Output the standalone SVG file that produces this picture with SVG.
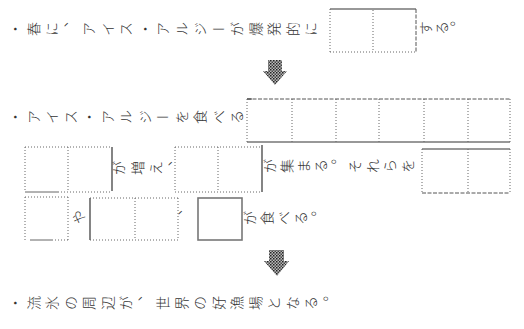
<svg xmlns="http://www.w3.org/2000/svg" width="524" height="329" viewBox="0 0 524 329">
<defs>
<pattern id="half" width="3" height="3" patternUnits="userSpaceOnUse">
<rect width="3" height="3" fill="#bbb"/>
<rect x="0" y="0" width="1.5" height="1.5" fill="#222"/>
<rect x="1.5" y="1.5" width="1.5" height="1.5" fill="#444"/>
</pattern>
</defs>
<style>
text{font-family:"Noto Sans CJK JP","Noto Sans",sans-serif;font-size:14px;font-weight:300;fill:#333;writing-mode:vertical-rl;letter-spacing:4.5px}
.dot{stroke:#666;stroke-width:1;stroke-dasharray:1 2;fill:none}
.dash{stroke:#555;stroke-width:1;stroke-dasharray:4 1.5;fill:none}
.solid{stroke:#333;stroke-width:1.2;fill:none}
.thin{stroke:#666;stroke-width:1;fill:none}
.gray{stroke:#777;stroke-width:1.6;fill:none}
.arrow{fill:url(#half)}
</style>
<rect width="524" height="329" fill="#fff"/>

<g id="line1">
<text transform="translate(8,29) rotate(-90)" x="0" y="0">・春に、アイス・アルジーが爆発的に</text>
<text transform="translate(419,28) rotate(-90)" x="0" y="0" style="letter-spacing:1.5px">する。</text>
</g>
<g id="box1">
<path class="solid" d="M330,9H416"/>
<path class="dot" d="M330,9V52M373,10V52M330,52H416"/>
<path class="dash" d="M416,9V52"/>
</g>

<g id="line2">
<text transform="translate(8,117) rotate(-90)" x="0" y="0">・アイス・アルジーを食べる</text>
</g>
<g id="boxes2">
<path class="dash" d="M247,99H510"/>
<path class="solid" d="M247,142H510M247,99H252M247,142H252"/>
<path class="dot" d="M247,99V142M292,99V142M336,99V142M379,99V142M424,99V142M468,99V142M510,99V142"/>
</g>

<g id="line3">
<text transform="translate(112,168) rotate(-90)" x="0" y="0">が増え、</text>
<text transform="translate(263,166) rotate(-90)" x="0" y="0" style="letter-spacing:3px">が集まる。</text>
<text transform="translate(348,166) rotate(-90)" x="0" y="0" style="letter-spacing:3.5px">それらを</text>
</g>
<g id="boxA">
<path class="dot" d="M25,147H112M25,147V192M68,147V192M58,192H112"/>
<path class="thin" d="M25,192H58"/>
<path class="solid" d="M112,147V191"/>
</g>
<g id="boxB">
<path class="dot" d="M175,147H262M175,147V192M218,147V192M175,192H262"/>
<path class="solid" d="M262,145V192"/>
</g>
<g id="boxC">
<path class="gray" d="M422,149H510"/>
<path class="dot" d="M422,149V193M468,149V193M510,149V193"/>
<path class="dash" d="M422,193H510"/>
</g>

<g id="line4">
<text transform="translate(72,217) rotate(-90)" x="0" y="0">や</text>
<text transform="translate(178,217) rotate(-90)" x="0" y="0">、</text>
<text transform="translate(243,218) rotate(-90)" x="0" y="0" style="letter-spacing:3px">が食べる。</text>
</g>
<g id="boxD">
<path class="dot" d="M25,197H68M25,197V240M68,197V240M52,240H68"/>
<path class="thin" d="M30,240H52"/>
</g>
<g id="boxE">
<path class="solid" d="M90,198V240"/>
<path class="dot" d="M90,198H178M135,198V240M178,198V240M90,240H178"/>
</g>
<g id="boxF">
<rect class="gray" x="198" y="198" width="44" height="42"/>
</g>

<g id="line5">
<text transform="translate(8,303) rotate(-90)" x="0" y="0">・流氷の周辺が、世界の好漁場となる。</text>
</g>

<g id="connectors">
<path class="arrow" d="M268,60H282V71H287L275,85L263,71H268Z"/>
<path class="arrow" d="M269,250H284V261H289L277,276L264,261H269Z"/>
</g>
</svg>
